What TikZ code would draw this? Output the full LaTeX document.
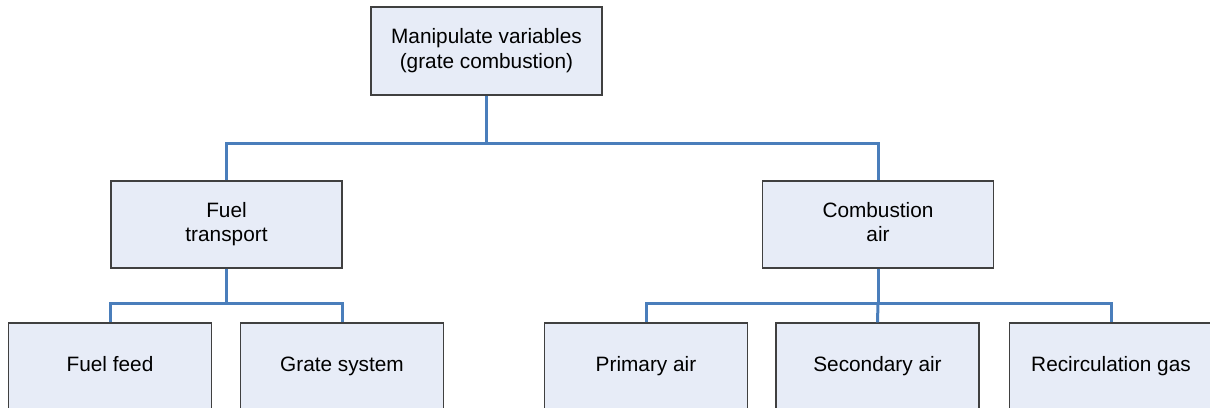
\documentclass[tikz,border=0pt]{standalone}
\usepackage{fontspec}
\setmainfont{Liberation Sans}
\definecolor{boxfill}{RGB}{231,236,247}
\definecolor{boxline}{RGB}{64,64,64}
\definecolor{linkblue}{RGB}{74,126,187}
\begin{document}
\begin{tikzpicture}[x=1pt,y=-1pt,
  box/.style={draw=boxline,fill=boxfill,line width=1.1pt,inner sep=0pt,
    align=center,font=\fontsize{20.8}{24.5}\selectfont},
  midbox/.style={box,minimum width=231pt,minimum height=87pt},
  lowbox/.style={box,minimum width=203pt,minimum height=87pt},
  link/.style={draw=linkblue,line width=3pt}]
\useasboundingbox (0,0) rectangle (1210,407);
\clip (0,0) rectangle (1210,407);
\node[box,minimum width=231pt,minimum height=88pt] (top) at (486.5,51) {Manipulate variables\strut\\(grate combustion)\strut};
\node[midbox] (ft) at (226.5,224.5) {Fuel\strut\\transport\strut};
\node[midbox] (ca) at (878,224.5) {Combustion\strut\\air\strut};
\node[lowbox] (ff) at (110,366.5) {Fuel feed\strut};
\node[lowbox] (gs) at (342,366.5) {Grate system\strut};
\node[lowbox] (pa) at (646,366.5) {Primary air\strut};
\node[lowbox] (sa) at (877.5,366.5) {Secondary air\strut};
\node[lowbox] (rg) at (1111,366.5) {Recirculation gas\strut};
\coordinate (j1) at (486.5,143);
\coordinate (j2) at (226.5,303);
\coordinate (j3) at (878,303);
\draw[link] (top.south) -- (j1);
\draw[link] (ft.north) |- (j1) -| (ca.north);
\draw[link] (ft.south) -- (j2);
\draw[link] (ff.north) |- (j2) -| (gs.north);
\draw[link] (ca.south) -- (j3);
\draw[link] (pa.north) |- (j3) -| (rg.north);
\draw[link] (j3) -- (sa.north);
\end{tikzpicture}
\end{document}
